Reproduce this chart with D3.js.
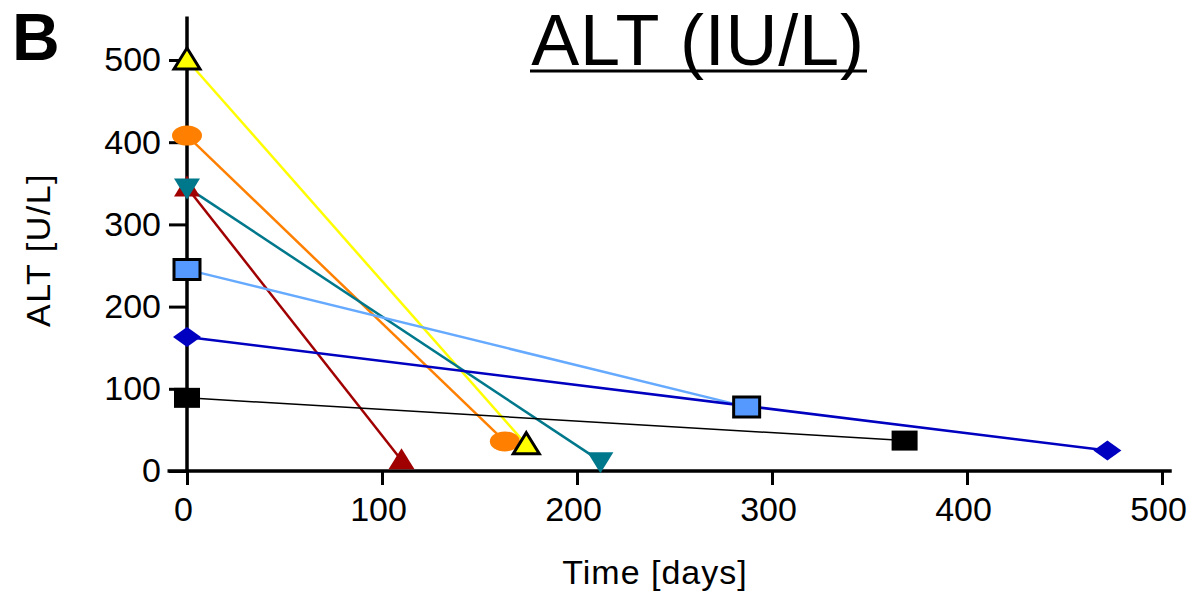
<!DOCTYPE html>
<html><head><meta charset="utf-8">
<script src="https://cdn.jsdelivr.net/npm/d3@7"></script>
<style>body{margin:0;background:#fff}svg{display:block}text{font-family:"Liberation Sans",Arial,sans-serif}</style>
</head><body><svg id="c" width="1193" height="593"></svg>
<script>
const seriesNames = ["yellow","orange","teal","darkred","lightblue","blue","black"];
const startDays = [0,0,0,0,0,0,0];
const startALT = [500,408,345,345,245,163,89];
const endDays = [174,163,212,110,287,472,368];
const endALT = [32,36,12,13,78,25,37];
const xTicks = [0,100,200,300,400,500];
const yTicks = [0,100,200,300,400,500];

const styles = {
  yellow:{line:"#ffff00",fill:"#ffff00",stroke:"#000",shape:"tri",lw:2.5},
  orange:{line:"#ff8000",fill:"#ff8000",stroke:"none",shape:"ell",lw:2.5},
  teal:{line:"#00788c",fill:"#00788c",stroke:"none",shape:"itri",lw:2.5},
  darkred:{line:"#a00000",fill:"#a00000",stroke:"none",shape:"tri",lw:2.5},
  lightblue:{line:"#66aaff",fill:"#5599ff",stroke:"#000",shape:"sq",lw:2.5},
  blue:{line:"#0000c0",fill:"#0000c0",stroke:"none",shape:"dia",lw:2.5},
  black:{line:"#000",fill:"#000",stroke:"none",shape:"sq",lw:1.5}
};
const svg = d3.select("#c");
const x = d3.scaleLinear().domain([0,500]).range([187,1162]);
const y = d3.scaleLinear().domain([0,500]).range([471,60]);

// axes
const gx = svg.append("g").attr("transform",`translate(0,${y(0)})`)
  .call(d3.axisBottom(x).tickValues(xTicks).tickSize(14).tickSizeOuter(0).tickPadding(10));
gx.select(".domain").remove();
gx.selectAll(".tick line").attr("stroke","#000").attr("stroke-width",3);
gx.selectAll(".tick text").attr("font-size",34).attr("fill","#000").attr("dy","0.75em").attr("dx",-4);
const gy = svg.append("g").attr("transform",`translate(${x(0)},0)`)
  .call(d3.axisLeft(y).tickValues(yTicks).tickSize(18).tickSizeOuter(0).tickPadding(8));
gy.select(".domain").remove();
gy.selectAll(".tick line").attr("stroke","#000").attr("stroke-width",3);
gy.selectAll(".tick text").attr("font-size",34).attr("fill","#000");
svg.append("line").attr("x1",x(-10)).attr("x2",x(505)).attr("y1",y(0)).attr("y2",y(0)).attr("stroke","#000").attr("stroke-width",3.5);
svg.append("line").attr("x1",x(0)).attr("x2",x(0)).attr("y1",y(553)).attr("y2",y(0)).attr("stroke","#000").attr("stroke-width",3.5);

// lines
const data = seriesNames.map((n,i)=>({n, pts:[[startDays[i],startALT[i]],[endDays[i],endALT[i]]]}));
const lineGen = d3.line().x(d=>x(d[0])).y(d=>y(d[1]));
svg.append("g").selectAll("path").data(data).join("path")
  .attr("d",d=>lineGen(d.pts)).attr("fill","none")
  .attr("stroke",d=>styles[d.n].line).attr("stroke-width",d=>styles[d.n].lw);

function shapePath(s){
  switch(s){
    case "tri": return "M0,-12L13,9L-13,9Z";
    case "itri": return "M0,12L13,-9L-13,-9Z";
    case "ell": return "M-15,0A15,10 0 1,0 15,0A15,10 0 1,0 -15,0Z";
    case "sq": return "M-13,-10H13V10H-13Z";
    case "dia": return "M0,-10L14,0L0,10L-14,0Z";
  }
}
const order = ["darkred","teal","orange","yellow","lightblue","blue","black"];
const pts = [];
order.forEach(n=>{const d=data.find(e=>e.n===n); d.pts.forEach(p=>pts.push({n,p}));});
svg.append("g").selectAll("path").data(pts).join("path")
  .attr("transform",d=>`translate(${x(d.p[0])},${y(d.p[1])})`)
  .attr("d",d=>shapePath(styles[d.n].shape))
  .attr("fill",d=>styles[d.n].fill)
  .attr("stroke",d=>styles[d.n].stroke).attr("stroke-width",3);

// titles
svg.append("text").attr("x",12).attr("y",60).attr("font-size",66).attr("font-weight","bold").text("B");
svg.append("text").attr("x",698).attr("y",65).attr("text-anchor","middle").attr("font-size",72).attr("letter-spacing",0.8).text("ALT (IU/L)");
svg.append("line").attr("x1",530).attr("x2",867).attr("y1",71).attr("y2",71).attr("stroke","#000").attr("stroke-width",3);
svg.append("text").attr("transform","translate(50,250) rotate(-90)").attr("text-anchor","middle").attr("font-size",34).attr("letter-spacing",1.5).text("ALT [U/L]");
svg.append("text").attr("x",655).attr("y",584).attr("text-anchor","middle").attr("font-size",34).attr("letter-spacing",1).text("Time [days]");
</script></body></html>
